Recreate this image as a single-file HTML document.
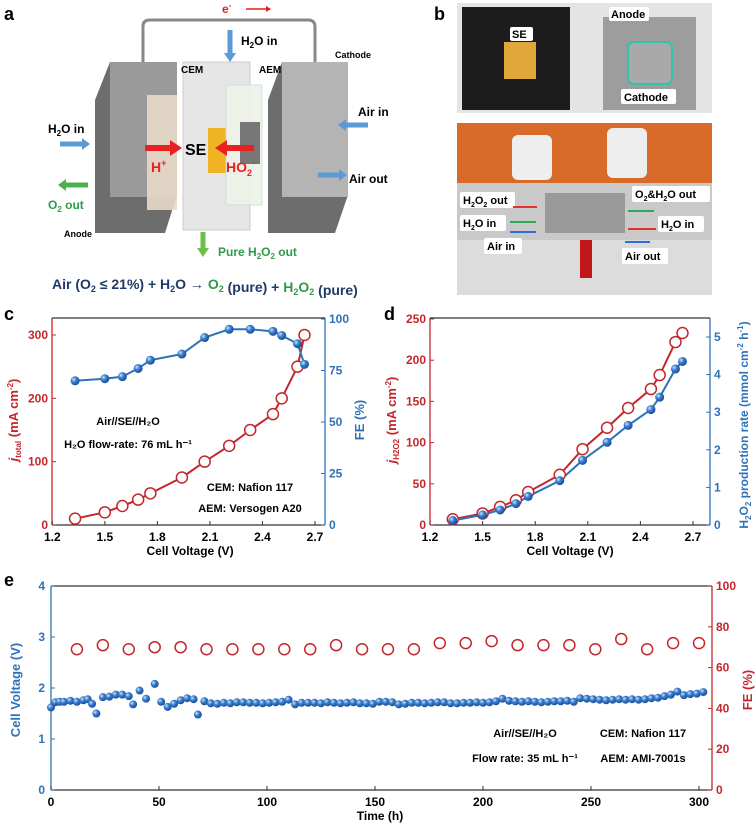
<!DOCTYPE html>
<html><head><meta charset="utf-8"><style>
body{margin:0;background:#fff;}
svg{display:block;font-family:"Liberation Sans",Arial,sans-serif;font-weight:bold;}
</style></head><body>
<svg id="fig" width="756" height="829" viewBox="0 0 756 829" xmlns="http://www.w3.org/2000/svg">
<defs>
<radialGradient id="ball" cx="35%" cy="35%" r="65%"><stop offset="0" stop-color="#cfe3fb"/><stop offset="0.45" stop-color="#3a7fd0"/><stop offset="1" stop-color="#1b4f96"/></radialGradient>
<linearGradient id="metal" x1="0" x2="1"><stop offset="0" stop-color="#8c8c8c"/><stop offset="0.5" stop-color="#c8c8c8"/><stop offset="1" stop-color="#9a9a9a"/></linearGradient>
</defs>

<!-- Panel a -->
<g>
<text x="4" y="20" font-size="18">a</text>
<path d="M143,70 V26 Q143,20 150,20 H308 Q315,20 315,27 V70" fill="none" stroke="#888" stroke-width="3"/>
<text x="222" y="13" font-size="12" fill="#e02020">e<tspan font-size="8" dy="-5">-</tspan></text>
<line x1="246" y1="9" x2="266" y2="9" stroke="#e02020" stroke-width="1.5"/><path d="M266,6 L271,9 L266,12Z" fill="#e02020"/>
<path d="M95,100 L110,62 L177,62 L177,195 L165,233 L95,233Z" fill="#6d6d6d"/>
<rect x="110" y="62" width="67" height="135" fill="#9a9a9a"/>
<rect x="147" y="95" width="30" height="115" fill="#e8d9c8" opacity="0.9"/>
<rect x="183" y="62" width="67" height="168" fill="#e6e6e6" stroke="#ccc"/>
<rect x="208" y="128" width="18" height="45" fill="#f0b323"/>
<rect x="226" y="85" width="36" height="120" fill="#eef3e8" opacity="0.9" stroke="#cdd"/>
<rect x="240" y="122" width="20" height="42" fill="#777"/>
<path d="M268,100 L282,62 L348,62 L348,195 L335,233 L268,233Z" fill="#6d6d6d"/>
<rect x="282" y="62" width="66" height="135" fill="#b4b4b4"/>
<text x="181" y="73" font-size="10" fill="#000">CEM</text>
<text x="259" y="73" font-size="10" fill="#000">AEM</text>
<text x="335" y="58" font-size="9" fill="#000">Cathode</text>
<text x="64" y="237" font-size="9" fill="#000">Anode</text>
<text x="241" y="45" font-size="12">H<tspan font-size="8" dy="3">2</tspan><tspan dy="-3">O in</tspan></text>
<path d="M230,30 V55" stroke="#5b9bd5" stroke-width="5"/><path d="M224,53 L230,62 L236,53Z" fill="#5b9bd5"/>
<text x="48" y="133" font-size="12">H<tspan font-size="8" dy="3">2</tspan><tspan dy="-3">O in</tspan></text>
<path d="M60,144 H83" stroke="#5b9bd5" stroke-width="5"/><path d="M82,138 L90,144 L82,150Z" fill="#5b9bd5"/>
<path d="M65,185 H88" stroke="#4caf50" stroke-width="5"/><path d="M66,179 L58,185 L66,191Z" fill="#4caf50"/>
<text x="48" y="209" font-size="12" fill="#2e9a4a">O<tspan font-size="8" dy="3">2</tspan><tspan dy="-3"> out</tspan></text>
<text x="358" y="116" font-size="12">Air in</text>
<path d="M345,125 H368" stroke="#5b9bd5" stroke-width="5"/><path d="M346,119 L338,125 L346,131Z" fill="#5b9bd5"/>
<text x="349" y="183" font-size="12">Air out</text>
<path d="M318,175 H340" stroke="#5b9bd5" stroke-width="5"/><path d="M339,169 L347,175 L339,181Z" fill="#5b9bd5"/>
<path d="M145,148 H172" stroke="#e82020" stroke-width="6"/><path d="M170,140 L182,148 L170,156Z" fill="#e82020"/>
<path d="M225,148 H254" stroke="#e82020" stroke-width="6"/><path d="M227,140 L215,148 L227,156Z" fill="#e82020"/>
<text x="185" y="155" font-size="16">SE</text>
<text x="151" y="172" font-size="14" fill="#e82020">H<tspan font-size="9" dy="-6">+</tspan></text>
<text x="226" y="172" font-size="14" fill="#e82020">HO<tspan font-size="9" dy="4">2</tspan><tspan font-size="9" dy="-10">-</tspan></text>
<path d="M203,232 V250" stroke="#6cbf4a" stroke-width="5"/><path d="M197,248 L203,257 L209,248Z" fill="#6cbf4a"/>
<text x="218" y="256" font-size="12" fill="#2e9a4a">Pure H<tspan font-size="8" dy="3">2</tspan><tspan dy="-3">O</tspan><tspan font-size="8" dy="3">2</tspan><tspan dy="-3"> out</tspan></text>
<text x="52" y="289" font-size="14" fill="#1f3a68">Air (O<tspan font-size="9" dy="3">2</tspan><tspan dy="-3"> ≤ 21%) + H</tspan><tspan font-size="9" dy="3">2</tspan><tspan dy="-3">O → </tspan><tspan fill="#2e9a4a">O<tspan font-size="9" dy="3">2</tspan><tspan dy="-3"></tspan></tspan><tspan> (pure) + </tspan><tspan fill="#2e9a4a">H<tspan font-size="9" dy="3">2</tspan><tspan dy="-3">O</tspan><tspan font-size="9" dy="3">2</tspan><tspan dy="-3"></tspan></tspan><tspan> (pure)</tspan></text>
</g>

<!-- Panel b -->
<g>
<text x="434" y="20" font-size="18">b</text>
<rect x="457" y="3" width="255" height="110" fill="#e4e4e4"/>
<rect x="462" y="7" width="108" height="103" fill="#1c1c1c"/>
<rect x="504" y="42" width="32" height="37" fill="#e0a83a"/>
<rect x="603" y="17" width="93" height="93" fill="#9d9d9d"/>
<rect x="628" y="42" width="44" height="42" rx="6" fill="#a9a9a9" stroke="#2fc3b0" stroke-width="2"/>
<rect x="510" y="27" width="23" height="14" fill="#fff" rx="2"/><text x="512" y="38" font-size="11">SE</text>
<rect x="609" y="7" width="40" height="14" fill="#fff" rx="2"/><text x="611" y="18" font-size="11">Anode</text>
<rect x="621" y="89" width="55" height="15" fill="#fff" rx="2"/><text x="624" y="101" font-size="11">Cathode</text>
<rect x="457" y="123" width="255" height="172" fill="#c9c9c9"/>
<rect x="457" y="123" width="255" height="60" fill="#d86a2a"/>
<rect x="512" y="135" width="40" height="45" fill="#eee" rx="6"/>
<rect x="607" y="128" width="40" height="50" fill="#eee" rx="6"/>
<rect x="457" y="240" width="255" height="55" fill="#dcdcdc"/>
<rect x="545" y="193" width="80" height="40" fill="#9a9a9a"/>
<rect x="580" y="240" width="12" height="38" fill="#c01818"/>
<rect x="460" y="192" width="55" height="16" fill="#fff" rx="2"/><text x="463" y="204" font-size="11">H<tspan font-size="7" dy="3">2</tspan><tspan dy="-3">O</tspan><tspan font-size="7" dy="3">2</tspan><tspan dy="-3"> out</tspan></text>
<rect x="460" y="215" width="46" height="16" fill="#fff" rx="2"/><text x="463" y="227" font-size="11">H<tspan font-size="7" dy="3">2</tspan><tspan dy="-3">O in</tspan></text>
<rect x="484" y="238" width="38" height="16" fill="#fff" rx="2"/><text x="487" y="250" font-size="11">Air in</text>
<rect x="632" y="186" width="78" height="16" fill="#fff" rx="2"/><text x="635" y="198" font-size="11">O<tspan font-size="7" dy="3">2</tspan><tspan dy="-3">&amp;H</tspan><tspan font-size="7" dy="3">2</tspan><tspan dy="-3">O out</tspan></text>
<rect x="658" y="216" width="46" height="16" fill="#fff" rx="2"/><text x="661" y="228" font-size="11">H<tspan font-size="7" dy="3">2</tspan><tspan dy="-3">O in</tspan></text>
<rect x="622" y="248" width="46" height="16" fill="#fff" rx="2"/><text x="625" y="260" font-size="11">Air out</text>
<line x1="513" y1="207" x2="537" y2="207" stroke="#e53030" stroke-width="2"/>
<line x1="510" y1="222" x2="536" y2="222" stroke="#2eaa55" stroke-width="2"/>
<line x1="510" y1="232" x2="536" y2="232" stroke="#2b6fd6" stroke-width="2"/>
<line x1="628" y1="211" x2="654" y2="211" stroke="#2eaa55" stroke-width="2"/>
<line x1="628" y1="229" x2="656" y2="229" stroke="#e53030" stroke-width="2"/>
<line x1="625" y1="242" x2="650" y2="242" stroke="#2b6fd6" stroke-width="2"/>
</g>

<g id="charts"></g>
</svg>
<script>
// Panel c data
const cV=[1.33,1.5,1.6,1.69,1.76,1.94,2.07,2.21,2.33,2.46,2.51,2.60,2.64];
const cJ=[10,20,30,40,50,75,100,125,150,175,200,250,300];
const cFE=[70,71,72,76,80,83,91,95,95,94,92,88,78];
// Panel d data
const dJ=[7,14,22,30,40,61,92,118,142,165,182,222,233];
const dRate=[0.12,0.27,0.40,0.57,0.76,1.18,1.72,2.2,2.65,3.07,3.4,4.15,4.35];
// Panel e data
const eT=[0,2,4,6,9,12,15,17,19,21,24,27,30,33,36,38,41,44,48,51,54,57,60,63,66,68,71,74,77,80,83,86,89,92,95,98,101,104,107,110,113,116,119,122,125,128,131,134,137,140,143,146,149,152,155,158,161,164,167,170,173,176,179,182,185,188,191,194,197,200,203,206,209,212,215,218,221,224,227,230,233,236,239,242,245,248,251,254,257,260,263,266,269,272,275,278,281,284,287,290,293,296,299,302];
const eV=[1.62,1.72,1.73,1.73,1.75,1.73,1.76,1.78,1.69,1.50,1.82,1.83,1.87,1.87,1.84,1.68,1.95,1.79,2.08,1.73,1.63,1.69,1.76,1.80,1.78,1.48,1.74,1.70,1.69,1.71,1.70,1.72,1.72,1.71,1.71,1.70,1.71,1.72,1.73,1.77,1.68,1.71,1.71,1.71,1.70,1.72,1.71,1.70,1.71,1.72,1.70,1.70,1.69,1.73,1.73,1.72,1.68,1.69,1.71,1.71,1.70,1.71,1.72,1.72,1.70,1.70,1.71,1.71,1.72,1.71,1.72,1.74,1.79,1.75,1.74,1.73,1.74,1.73,1.72,1.73,1.74,1.74,1.75,1.73,1.80,1.79,1.78,1.77,1.76,1.77,1.78,1.77,1.78,1.77,1.78,1.80,1.81,1.84,1.87,1.93,1.86,1.88,1.89,1.92];
const eFEt=[12,24,36,48,60,72,84,96,108,120,132,144,156,168,180,192,204,216,228,240,252,264,276,288,300];
const eFE=[69,71,69,70,70,69,69,69,69,69,71,69,69,69,72,72,73,71,71,71,69,74,69,72,72];
const cXTicks=[1.2,1.5,1.8,2.1,2.4,2.7];
const cYTicks=[0,100,200,300];
const cFETicks=[0,25,50,75,100];
const dYTicks=[0,50,100,150,200,250];
const dRTicks=[0,1,2,3,4,5];
const eXTicks=[0,50,100,150,200,250,300];
const eYTicks=[0,1,2,3,4];
const eFETicks=[0,20,40,60,80,100];

const NS="http://www.w3.org/2000/svg";
const root=document.getElementById('charts');
const RED="#c3272b",BLUE="#2e72b8";
function mk(tag,attrs,parent){const e=document.createElementNS(NS,tag);for(const k in attrs)e.setAttribute(k,attrs[k]);(parent||root).appendChild(e);return e;}
function txt(x,y,s,size,fill,anchor,parent){const t=mk('text',{x:x,y:y,'font-size':size,fill:fill,'text-anchor':anchor||'middle'},parent);t.textContent=s;return t;}
function lin(a,b,p,q){return v=>p+(v-a)/(b-a)*(q-p);}
function frame(g,x0,y0,x1,y1,lc,rc){
  mk('line',{x1:x0,y1:y0,x2:x0,y2:y1,stroke:lc,'stroke-width':1.3},g);
  mk('line',{x1:x1,y1:y0,x2:x1,y2:y1,stroke:rc,'stroke-width':1.3},g);
  mk('line',{x1:x0,y1:y0,x2:x1,y2:y0,stroke:'#333','stroke-width':1.3},g);
  mk('line',{x1:x0,y1:y1,x2:x1,y2:y1,stroke:'#333','stroke-width':1.3},g);
}
function openC(g,x,y,r){mk('circle',{cx:x,cy:y,r:r,fill:'#fff',stroke:RED,'stroke-width':1.5},g);}
function ball(g,x,y,r){mk('circle',{cx:x,cy:y,r:r,fill:'url(#ball)'},g);}

// ---- Panel c ----
(function(){
 const g=mk('g',{});
 
 
 const x0=52,x1=325,yt=318,yb=525;
 const X=lin(1.2,2.7,52.3,315),Y=lin(0,300,525,335),F=lin(0,100,525,319);
 frame(g,x0,yt,x1,yb,RED,BLUE);
 txt(4,320,'c',18,'#000','start',g);
 cXTicks.forEach(v=>{mk('line',{x1:X(v),y1:yb,x2:X(v),y2:yb-4,stroke:'#333'},g);txt(X(v),yb+16,v.toFixed(1),12,'#000','middle',g);});
 cYTicks.forEach(v=>{mk('line',{x1:x0,y1:Y(v),x2:x0+4,y2:Y(v),stroke:RED},g);txt(x0-4,Y(v)+4,String(v),12,RED,'end',g);});
 cFETicks.forEach(v=>{mk('line',{x1:x1,y1:F(v),x2:x1-4,y2:F(v),stroke:BLUE},g);txt(x1+4,F(v)+4,String(v),12,BLUE,'start',g);});
 const t1=txt(190,555,'Cell Voltage (V)',12,'#000','middle',g);
 
 const ty=txt(0,0,'',13,RED,'middle',g);ty.setAttribute('transform','translate(18,420) rotate(-90)');
 ty.innerHTML='<tspan font-style="italic">j</tspan><tspan font-size="8" dy="3">total</tspan><tspan dy="-3"> (mA cm</tspan><tspan font-size="8" dy="-5">-2</tspan><tspan dy="5">)</tspan>';
 
 const tr=txt(0,0,'FE (%)',13,BLUE,'middle',g);tr.setAttribute('transform','translate(364,420) rotate(-90)');
 
 txt(128,425,'Air//SE//H₂O',11,'#000','middle',g);
 txt(128,448,'H₂O flow-rate: 76 mL h⁻¹',11,'#000','middle',g);
 txt(250,491,'CEM: Nafion 117',11,'#000','middle',g);
 txt(250,512,'AEM: Versogen A20',11,'#000','middle',g);
 mk('polyline',{points:cV.map((v,i)=>X(v)+','+Y(cJ[i])).join(' '),fill:'none',stroke:RED,'stroke-width':2},g);
 mk('polyline',{points:cV.map((v,i)=>X(v)+','+F(cFE[i])).join(' '),fill:'none',stroke:BLUE,'stroke-width':2},g);
 cV.forEach((v,i)=>{openC(g,X(v),Y(cJ[i]),5.5);});
 cV.forEach((v,i)=>{ball(g,X(v),F(cFE[i]),4.5);});
})();

// ---- Panel d ----
(function(){
 const g=mk('g',{});
 
 
 const x0=430,x1=710,yt=318,yb=525;
 const X=lin(1.2,2.7,430,693),Y=lin(0,250,525,319),R=lin(0,5,525,337);
 frame(g,x0,yt,x1,yb,RED,BLUE);
 txt(384,320,'d',18,'#000','start',g);
 cXTicks.forEach(v=>{mk('line',{x1:X(v),y1:yb,x2:X(v),y2:yb-4,stroke:'#333'},g);txt(X(v),yb+16,v.toFixed(1),12,'#000','middle',g);});
 dYTicks.forEach(v=>{mk('line',{x1:x0,y1:Y(v),x2:x0+4,y2:Y(v),stroke:RED},g);txt(x0-4,Y(v)+4,String(v),12,RED,'end',g);});
 dRTicks.forEach(v=>{mk('line',{x1:x1,y1:R(v),x2:x1-4,y2:R(v),stroke:BLUE},g);txt(x1+4,R(v)+4,String(v),12,BLUE,'start',g);});
 const t1=txt(570,555,'Cell Voltage (V)',12,'#000','middle',g);
 
 const ty=txt(0,0,'',13,RED,'middle',g);ty.setAttribute('transform','translate(396,420) rotate(-90)');
 ty.innerHTML='<tspan font-style="italic">j</tspan><tspan font-size="8" dy="3">H2O2</tspan><tspan dy="-3"> (mA cm</tspan><tspan font-size="8" dy="-5">-2</tspan><tspan dy="5">)</tspan>';
 
 const tr=txt(0,0,'',12,BLUE,'middle',g);tr.setAttribute('transform','translate(748,425) rotate(-90)');
 tr.innerHTML='H<tspan font-size="8" dy="3">2</tspan><tspan dy="-3">O</tspan><tspan font-size="8" dy="3">2</tspan><tspan dy="-3"> production rate (mmol cm</tspan><tspan font-size="8" dy="-5">-2</tspan><tspan dy="5"> h</tspan><tspan font-size="8" dy="-5">-1</tspan><tspan dy="5">)</tspan>';
 
 mk('polyline',{points:cV.map((v,i)=>X(v)+','+Y(dJ[i])).join(' '),fill:'none',stroke:RED,'stroke-width':2},g);
 mk('polyline',{points:cV.map((v,i)=>X(v)+','+R(dRate[i])).join(' '),fill:'none',stroke:BLUE,'stroke-width':2},g);
 cV.forEach((v,i)=>{openC(g,X(v),Y(dJ[i]),5.5);});
 cV.forEach((v,i)=>{ball(g,X(v),R(dRate[i]),4.5);});
})();

// ---- Panel e ----
(function(){
 const g=mk('g',{});
 
 
 const x0=51,x1=712,yt=586,yb=790;
 const X=lin(0,300,51,699),V=lin(0,4,790,586),F=lin(0,100,790,586);
 frame(g,x0,yt,x1,yb,BLUE,RED);
 txt(4,586,'e',18,'#000','start',g);
 eXTicks.forEach(v=>{mk('line',{x1:X(v),y1:yb,x2:X(v),y2:yb-4,stroke:'#333'},g);txt(X(v),yb+16,String(v),12,'#000','middle',g);});
 eYTicks.forEach(v=>{mk('line',{x1:x0,y1:V(v),x2:x0+4,y2:V(v),stroke:BLUE},g);txt(x0-6,V(v)+4,String(v),12,BLUE,'end',g);});
 eFETicks.forEach(v=>{mk('line',{x1:x1,y1:F(v),x2:x1-4,y2:F(v),stroke:RED},g);txt(x1+4,F(v)+4,String(v),12,RED,'start',g);});
 const t1=txt(380,820,'Time (h)',12,'#000','middle',g);
 
 const ty=txt(0,0,'Cell Voltage (V)',13,BLUE,'middle',g);ty.setAttribute('transform','translate(20,690) rotate(-90)');
 
 const tr=txt(0,0,'FE (%)',13,RED,'middle',g);tr.setAttribute('transform','translate(752,690) rotate(-90)');
 
 txt(525,737,'Air//SE//H₂O',11,'#000','middle',g);
 txt(525,762,'Flow rate: 35 mL h⁻¹',11,'#000','middle',g);
 txt(643,737,'CEM: Nafion 117',11,'#000','middle',g);
 txt(643,762,'AEM: AMI-7001s',11,'#000','middle',g);
 eFEt.forEach((t,i)=>{openC(g,X(t),F(eFE[i]),5.5);});
 eT.forEach((t,i)=>{ball(g,X(t),V(eV[i]),4);});
})();
</script>
</body></html>
